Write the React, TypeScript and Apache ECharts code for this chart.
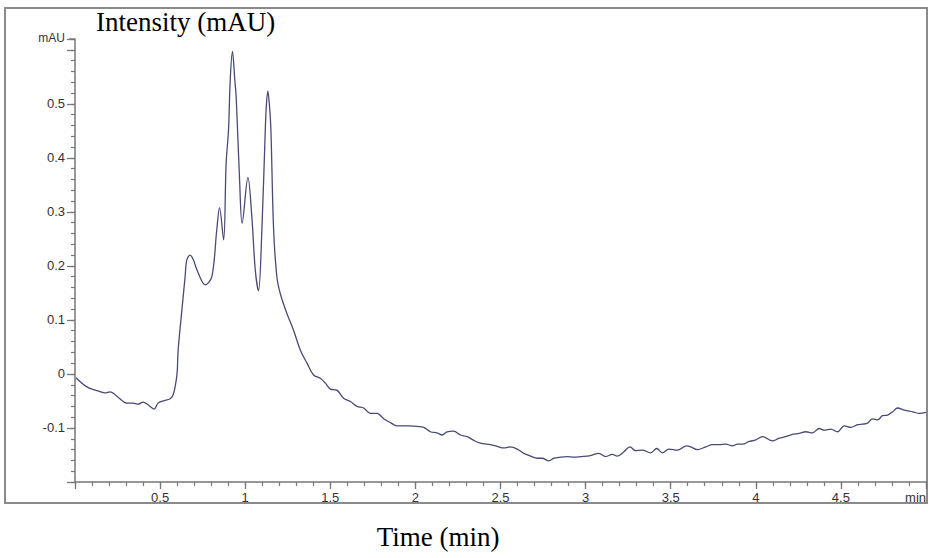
import React, { useEffect, useRef } from "react";
import * as echarts from "echarts";

const timeMin = [
  0.006, 0.07, 0.13, 0.176, 0.206, 0.253, 0.306, 0.341, 0.371, 0.4, 0.429, 0.465, 0.488, 0.518, 0.559, 0.576, 0.588, 0.6, 0.606,
  0.63, 0.647, 0.657, 0.676, 0.696, 0.716, 0.765, 0.804, 0.833, 0.849, 0.873, 0.888, 0.902, 0.912, 0.925, 0.939, 0.947, 0.967,
  0.982, 1.016, 1.039, 1.059, 1.078, 1.098, 1.118, 1.124, 1.133, 1.143, 1.151, 1.167, 1.186, 1.206, 1.245, 1.284, 1.324, 1.363,
  1.402, 1.441, 1.471, 1.5, 1.539, 1.578, 1.618, 1.657, 1.696, 1.735, 1.775, 1.814, 1.853, 1.892, 1.931, 1.971, 2.01, 2.049,
  2.088, 2.127, 2.157, 2.186, 2.225, 2.265, 2.304, 2.343, 2.382, 2.441, 2.48, 2.52, 2.559, 2.598, 2.637, 2.676, 2.716, 2.745,
  2.784, 2.814, 2.853, 2.892, 2.931, 2.971, 3.029, 3.078, 3.118, 3.157, 3.186, 3.225, 3.261, 3.294, 3.333, 3.382, 3.418, 3.451,
  3.49, 3.539, 3.594, 3.618, 3.657, 3.706, 3.745, 3.784, 3.824, 3.863, 3.892, 3.922, 3.961, 4.0, 4.039, 4.098, 4.137, 4.176,
  4.216, 4.255, 4.294, 4.333, 4.373, 4.402, 4.441, 4.48, 4.52, 4.559, 4.598, 4.627, 4.657, 4.686, 4.716, 4.745, 4.775, 4.804,
  4.833, 4.873, 4.922, 4.961, 5.0,
];

const intensity = [
  -0.007, -0.024, -0.031, -0.035, -0.033, -0.043, -0.054, -0.054, -0.056, -0.052, -0.057, -0.065, -0.054, -0.05, -0.046, -0.039, -0.024, 0.002, 0.044,
  0.125, 0.18, 0.211, 0.22, 0.211, 0.193, 0.165, 0.18, 0.267, 0.308, 0.248, 0.39, 0.452, 0.544, 0.597, 0.544, 0.513, 0.359,
  0.279, 0.364, 0.291, 0.193, 0.154, 0.267, 0.452, 0.495, 0.524, 0.495, 0.452, 0.267, 0.18, 0.149, 0.112, 0.081, 0.044, 0.02,
  -0.002, -0.008, -0.017, -0.028, -0.03, -0.045, -0.051, -0.06, -0.063, -0.073, -0.073, -0.083, -0.09, -0.096, -0.096, -0.096, -0.097, -0.099,
  -0.107, -0.109, -0.113, -0.107, -0.106, -0.113, -0.116, -0.123, -0.128, -0.131, -0.134, -0.137, -0.135, -0.139, -0.147, -0.152, -0.156, -0.156,
  -0.161, -0.156, -0.154, -0.153, -0.154, -0.153, -0.151, -0.147, -0.153, -0.149, -0.152, -0.144, -0.135, -0.142, -0.141, -0.146, -0.138, -0.146,
  -0.139, -0.141, -0.133, -0.135, -0.14, -0.135, -0.131, -0.131, -0.13, -0.133, -0.13, -0.13, -0.125, -0.122, -0.116, -0.124, -0.119, -0.116,
  -0.112, -0.11, -0.107, -0.109, -0.101, -0.104, -0.102, -0.107, -0.096, -0.099, -0.094, -0.093, -0.091, -0.083, -0.085, -0.077, -0.076, -0.07,
  -0.063, -0.067, -0.07, -0.073, -0.071,
];

const xMin = 0;
const xMax = 5;
const yMin = -0.2;
const yMax = 0.62;
const yLabelMax = 0.5;

const titleY = "Intensity (mAU)";
const titleX = "Time (min)";
const yTopLabel = "mAU";
const xEndLabel = "min";

const axisColor = "#777777";
const labelColor = "#333333";
const sans = '"Liberation Sans", Arial, sans-serif';
const serif = '"Liberation Serif", "Times New Roman", serif';

export default function App() {
  const ref = useRef<HTMLDivElement>(null);

  useEffect(() => {
    if (!ref.current) return;
    const chart = echarts.init(ref.current, undefined, { renderer: "svg" });
    const data = timeMin.map((t, i) => [t, intensity[i]]);

    const fmtY = (v: number) => {
      if (v > yLabelMax + 1e-6) return "";
      if (Math.abs(v - yMin) < 1e-6) return "";
      const r = Math.round(v * 10) / 10;
      return String(r);
    };
    const fmtX = (v: number) => {
      if (Math.abs(v - xMax) < 1e-6) return xEndLabel;
      if (Math.abs(v) < 1e-6) return "";
      return String(Math.round(v * 10) / 10);
    };

    chart.setOption({
      animation: false,
      grid: { left: 75, right: 2, top: 39, bottom: 76, containLabel: false },
      xAxis: [
        {
          type: "value",
          min: xMin,
          max: xMax,
          interval: 0.5,
          position: "bottom",
          axisLine: { show: true, onZero: false, lineStyle: { color: axisColor, width: 1.5 } },
          axisTick: { show: true, length: 7, lineStyle: { color: axisColor, width: 1.3 } },
          axisLabel: {
            show: true,
            formatter: fmtX,
            color: labelColor,
            fontFamily: sans,
            fontSize: 13,
            margin: 9,
            alignMaxLabel: "right",
          },
          splitLine: { show: false },
        },
        {
          type: "value",
          min: xMin,
          max: xMax,
          interval: 0.1,
          position: "bottom",
          offset: 0,
          axisLine: { show: false, onZero: false },
          axisTick: { show: true, length: 4, lineStyle: { color: axisColor, width: 1.2 } },
          axisLabel: { show: false },
          splitLine: { show: false },
        },
      ],
      yAxis: [
        {
          type: "value",
          min: yMin,
          max: yMax,
          interval: 0.1,
          position: "left",
          axisLine: { show: true, onZero: false, lineStyle: { color: axisColor, width: 1.5 } },
          axisTick: { show: true, length: 8, lineStyle: { color: axisColor, width: 1.3 } },
          axisLabel: {
            show: true,
            formatter: fmtY,
            color: labelColor,
            fontFamily: sans,
            fontSize: 13,
            margin: 10,
          },
          splitLine: { show: false },
        },
        {
          type: "value",
          min: yMin,
          max: yMax,
          interval: 0.02,
          position: "left",
          offset: 0,
          axisLine: { show: false, onZero: false },
          axisTick: { show: true, length: 4, lineStyle: { color: axisColor, width: 1.2 } },
          axisLabel: { show: false },
          splitLine: { show: false },
        },
      ],
      series: [
        {
          type: "line",
          data,
          xAxisIndex: 0,
          yAxisIndex: 0,
          showSymbol: false,
          symbol: "none",
          smooth: 0.35,
          lineStyle: { color: "#4a4a74", width: 1.3 },
        },
      ],
      graphic: [
        {
          type: "rect",
          shape: { x: 5, y: 8, width: 922, height: 495 },
          style: { fill: "none", stroke: "#8a8a8a", lineWidth: 2 },
          silent: true,
        },
        {
          type: "line",
          shape: { x1: 69, y1: 39, x2: 75, y2: 39 },
          style: { stroke: axisColor, lineWidth: 1.3 },
          silent: true,
        },
        {
          type: "text",
          x: 65,
          y: 38,
          style: {
            text: yTopLabel,
            font: `12px ${sans}`,
            fill: labelColor,
            verticalAlign: "middle",
            align: "right",
          },
        },
        {
          type: "text",
          x: 96,
          y: 22,
          style: {
            text: titleY,
            font: `27px ${serif}`,
            fill: "#000",
            verticalAlign: "middle",
            align: "left",
          },
        },
        {
          type: "text",
          x: 438,
          y: 537,
          style: {
            text: titleX,
            font: `27px ${serif}`,
            fill: "#000",
            verticalAlign: "middle",
            align: "center",
          },
        },
      ],
    });

    return () => chart.dispose();
  }, []);

  return (
    <div
      ref={ref}
      style={{ position: "fixed", left: 0, top: 0, width: 929, height: 558, background: "#fff" }}
    />
  );
}
